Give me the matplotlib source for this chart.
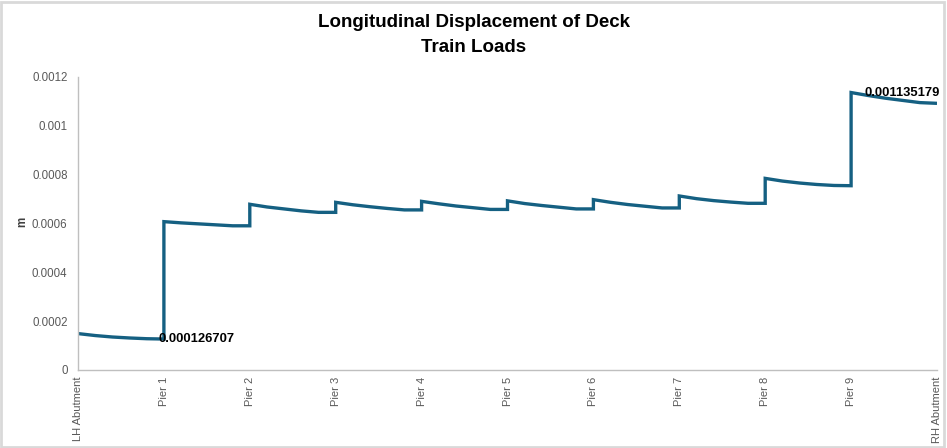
import matplotlib
matplotlib.use("Agg")
import matplotlib.pyplot as plt
from matplotlib.patches import Rectangle
import numpy as np

# Support labels along the deck
supports = ["LH Abutment", "Pier 1", "Pier 2", "Pier 3", "Pier 4", "Pier 5",
            "Pier 6", "Pier 7", "Pier 8", "Pier 9", "RH Abutment"]

# Relative positions of result points within each span (0 = left support, 1 = right support)
span_frac = [0.0, 0.2, 0.4, 0.6, 0.8, 1.0]

# Longitudinal displacement (m) at the result points of each span
span1 = [0.000149, 0.000141, 0.000135, 0.000131, 0.000128, 0.000126707]
span2 = [0.000607, 0.000602, 0.000598, 0.000594, 0.000590, 0.000590]
span3 = [0.000678, 0.000667, 0.000659, 0.000651, 0.000645, 0.000645]
span4 = [0.000686, 0.000676, 0.000668, 0.000661, 0.000655, 0.000655]
span5 = [0.000690, 0.000680, 0.000671, 0.000664, 0.000657, 0.000657]
span6 = [0.000692, 0.000681, 0.000673, 0.000666, 0.000659, 0.000659]
span7 = [0.000697, 0.000686, 0.000677, 0.000670, 0.000663, 0.000663]
span8 = [0.000712, 0.000701, 0.000693, 0.000687, 0.000682, 0.000682]
span9 = [0.000784, 0.000773, 0.000765, 0.000759, 0.000755, 0.000754]
span10 = [0.001135179, 0.001123, 0.001112, 0.001103, 0.001094, 0.001091]

spans = [span1, span2, span3, span4, span5, span6, span7, span8, span9, span10]

# Labelled values
label_min = 0.000126707
label_max = 0.001135179

yticks = [0, 0.0002, 0.0004, 0.0006, 0.0008, 0.001, 0.0012]
ytick_labels = ["0", "0.0002", "0.0004", "0.0006", "0.0008", "0.001", "0.0012"]

xs, ys = [], []
for i, s in enumerate(spans):
    for f, v in zip(span_frac, s):
        xs.append(i + f)
        ys.append(v)

W, H = 947, 448
fig = plt.figure(figsize=(W / 100, H / 100), dpi=100)
ax = fig.add_axes([78 / W, 1 - 370 / H, (937 - 78) / W, (370 - 76.7) / H])

line_color = "#156082"
ax.plot(xs, ys, color=line_color, lw=2.4, solid_joinstyle="miter", solid_capstyle="butt")

ax.set_xlim(0, 10)
ax.set_ylim(0, 0.0012)
ax.set_yticks(yticks)
ax.set_yticklabels(ytick_labels, fontfamily="Liberation Sans", fontsize=8.3, color="#595959")
ax.set_xticks(range(len(supports)))
ax.set_xticklabels(supports, rotation=90, fontfamily="Liberation Sans", fontsize=8,
                   color="#595959", va="top", ha="center")
ax.tick_params(axis="both", length=0)
ax.tick_params(axis="y", pad=7.5)
ax.tick_params(axis="x", pad=5)
for side in ["top", "right"]:
    ax.spines[side].set_visible(False)
for side in ["left", "bottom"]:
    ax.spines[side].set_color("#bfbfbf")
    ax.spines[side].set_linewidth(1.0)

# axis title
fig.text(22.5 / W, 1 - 222 / H, "m", rotation=90, ha="center", va="center",
         fontfamily="Liberation Sans", fontsize=8.3, fontweight="bold", color="#404040")

# data labels
i_min = ys.index(label_min)
ax.annotate(f"{label_min:.9f}".rstrip("0"), (xs[i_min], ys[i_min]), xytext=(-4, 0),
            textcoords="offset points", ha="left", va="center",
            fontfamily="Liberation Sans", fontweight="bold", fontsize=9.4, color="black")
i_max = ys.index(label_max)
ax.annotate(f"{label_max:.9f}", (xs[i_max], ys[i_max]), xytext=(10, 0),
            textcoords="offset points", ha="left", va="center",
            fontfamily="Liberation Sans", fontweight="bold", fontsize=9.4, color="black")

fig.text(0.5, 1 - 35 / H, "Longitudinal Displacement of Deck\nTrain Loads", ha="center",
         va="center", fontfamily="Liberation Sans", fontweight="bold", fontsize=13.5,
         color="black", linespacing=1.55)

fig.patches.append(Rectangle((0.001, 0.002), 0.996, 0.994, transform=fig.transFigure,
                             fill=False, edgecolor="#d9d9d9", lw=2))

fig.savefig("out.png", dpi=100)
